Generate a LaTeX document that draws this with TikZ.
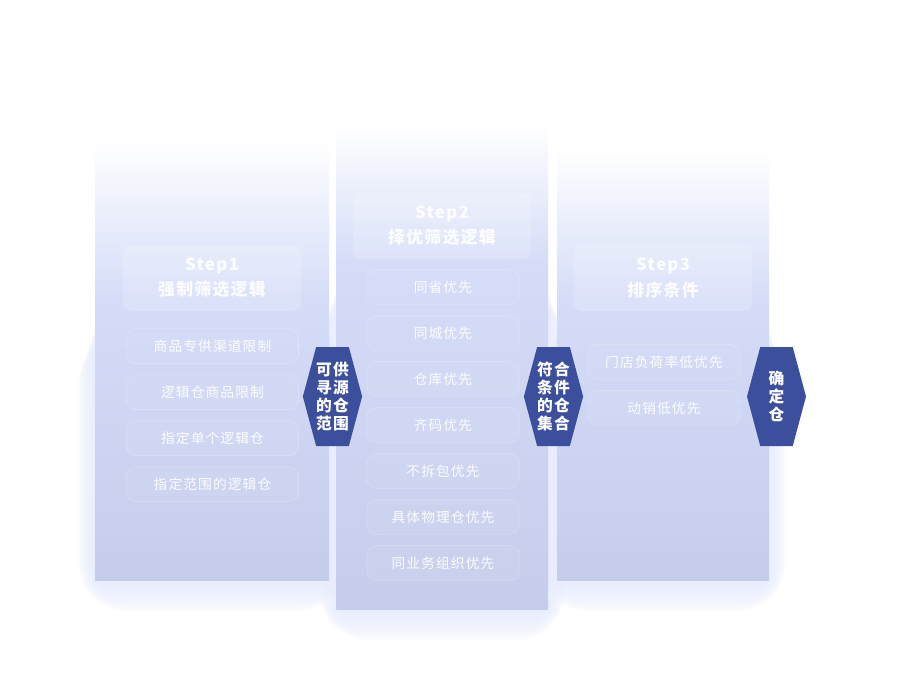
\documentclass[tikz,border=0pt]{standalone}
\usepackage{fontspec}
\setmainfont{Noto Sans CJK SC}
\newfontfamily\widefont{Noto Sans CJK SC}[LetterSpace=8]
\usetikzlibrary{positioning,shapes.symbols}
\definecolor{panelmid}{RGB}{212,220,248}
\definecolor{panelbot}{RGB}{197,205,235}
\definecolor{hexblue}{RGB}{59,79,156}
\definecolor{glow}{RGB}{232,236,253}
\tikzset{
	headbox/.style={fill=white, fill opacity=0.18, text opacity=0.92, text=white, rounded corners=6pt,
		minimum width=178*0.75pt, minimum height=66*0.75pt, align=center, font=\widefont\bfseries\fontsize{12.6pt}{18.8pt}\selectfont},
	itembox/.style={draw=white, draw opacity=0.55, densely dotted, line width=0.5pt, fill=white, fill opacity=0.05,
		text=white, text opacity=0.95, rounded corners=7pt, minimum height=35*0.75pt, font=\widefont\fontsize{10.3pt}{12pt}\selectfont},
	hexbox/.style={signal, signal to=west and east, signal pointer angle=150, fill=hexblue, text=white,
		minimum width=59*0.75pt, minimum height=99*0.75pt, inner sep=0pt, align=center,
		font=\widefont\bfseries\fontsize{11.8pt}{13.5pt}\selectfont}
}
\begin{document}
\begin{tikzpicture}[x=0.75pt,y=-0.75pt]
	\useasboundingbox [fill=white] (0,0) rectangle (900,678);
	\def\panels{95/140/329/580/300, 336/125/548/609/262, 557/150/769/580/300}
	% soft glow under the panels
	\foreach \l/\t/\r/\b/\m in \panels
	\foreach \k in {1,...,12}
	\fill [glow, opacity=0.16, rounded corners=\k*3] (\l+4-1.7*\k,\m+20+1.5*\k) rectangle (\r-4+1.7*\k,\b-4+2.9*\k);
	% panels: left/top/right/bottom/where the white fades out
	\foreach \l/\t/\r/\b/\m in \panels{
	\shade [top color=white, bottom color=panelmid] (\l,\t) rectangle (\r,\m+0.5);
	\shade [top color=panelmid, bottom color=panelbot] (\l,\m) rectangle (\r,\b);
	}
	% headers
	\node [headbox] (head1) at (212,278) {Step1\\强制筛选逻辑};
	\node [headbox] (head2) at (442,226) {Step2\\择优筛选逻辑};
	\node [headbox] (head3) at (663,278) {Step3\\排序条件};
	% step 1
	\foreach \txt [count=\i] in {商品专供渠道限制, 逻辑仓商品限制, 指定单个逻辑仓, 指定范围的逻辑仓}
	\node [itembox, minimum width=172*0.75pt] (one\i) at (212.5,300+46*\i) {\txt};
	% step 2
	\foreach \txt [count=\i] in {同省优先, 同城优先, 仓库优先, 齐码优先, 不拆包优先, 具体物理仓优先, 同业务组织优先}
	\node [itembox, minimum width=152*0.75pt] (two\i) at (443,241+46*\i) {\txt};
	% step 3
	\foreach \txt [count=\i] in {门店负荷率低优先, 动销低优先}
	\node [itembox, minimum width=152*0.75pt] (three\i) at (664,316+46*\i) {\txt};
	% hexagons
	\node [hexbox] (pool) at (332.5,396.5) {可供\\寻源\\的仓\\范围};
	\node [hexbox] (match) at (553.5,396.5) {符合\\条件\\的仓\\集合};
	\node [hexbox] (final) at (776.5,396.5) {确\\定\\仓};
\end{tikzpicture}
\end{document}
